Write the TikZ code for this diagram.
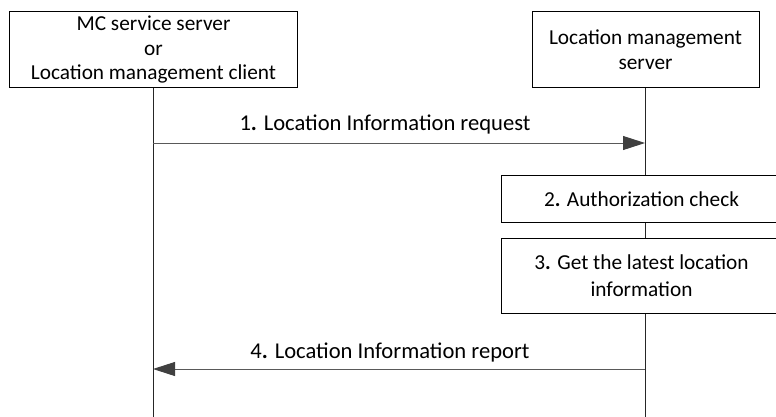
\documentclass[tikz,border=0pt]{standalone}
\usepackage{fontspec}
\setmainfont{Carlito}
\usetikzlibrary{arrows.meta}
\tikzset{
  ent/.style={draw=black, fill=white, line width=0.8pt, align=center, inner sep=0pt, font=\fontsize{21.3}{24.5}\selectfont},
  proc/.style={draw=black, fill=white, line width=0.8pt, align=center, inner sep=0pt, font=\fontsize{21.3}{27}\selectfont},
  life/.style={draw=black!85, line width=0.8pt},
  msg/.style={draw=black!65, line width=0.9pt, -{Triangle[length=22pt,width=14pt,fill=black!75,color=black!75]}},
  lbl/.style={font=\fontsize{22.6}{25}\selectfont, inner sep=0pt}
}
\begin{document}
\begin{tikzpicture}[x=1pt,y=-1pt]
\useasboundingbox (0,0) rectangle (776,416);
% lifelines
\coordinate (lb) at (153,417);
\coordinate (rb) at (645,417);
\draw[life] (153,87) -- (lb);
\draw[life] (645,87) -- (rb);
% entity boxes
\node[ent, minimum width=288pt, minimum height=76pt] (mc) at (153.5,49.5) {MC service server\\or\\Location management client};
\node[ent, minimum width=227pt, minimum height=76pt] (lms) at (645.5,49.5) {Location management\\server};
% process boxes
\node[proc, minimum width=280pt, minimum height=47pt] (auth) at (641.5,199) {2\textbf{.} Authorization check};
\node[proc, minimum width=280pt, minimum height=75pt] (get) at (641.5,275.5) {3\textbf{.} Get the latest location\\information};
% messages
\coordinate (m1a) at (153,143);
\coordinate (m1b) at (645,143);
\coordinate (m4a) at (645,369);
\coordinate (m4b) at (153,369);
\draw[msg] (m1a) -- (m1b);
\draw[msg] (m4a) -- (m4b);
\node[lbl] (t1) at (385,125) {1\textbf{.} Location Information request};
\node[lbl] (t4) at (390,352) {4\textbf{.} Location Information report};
\end{tikzpicture}
\end{document}
